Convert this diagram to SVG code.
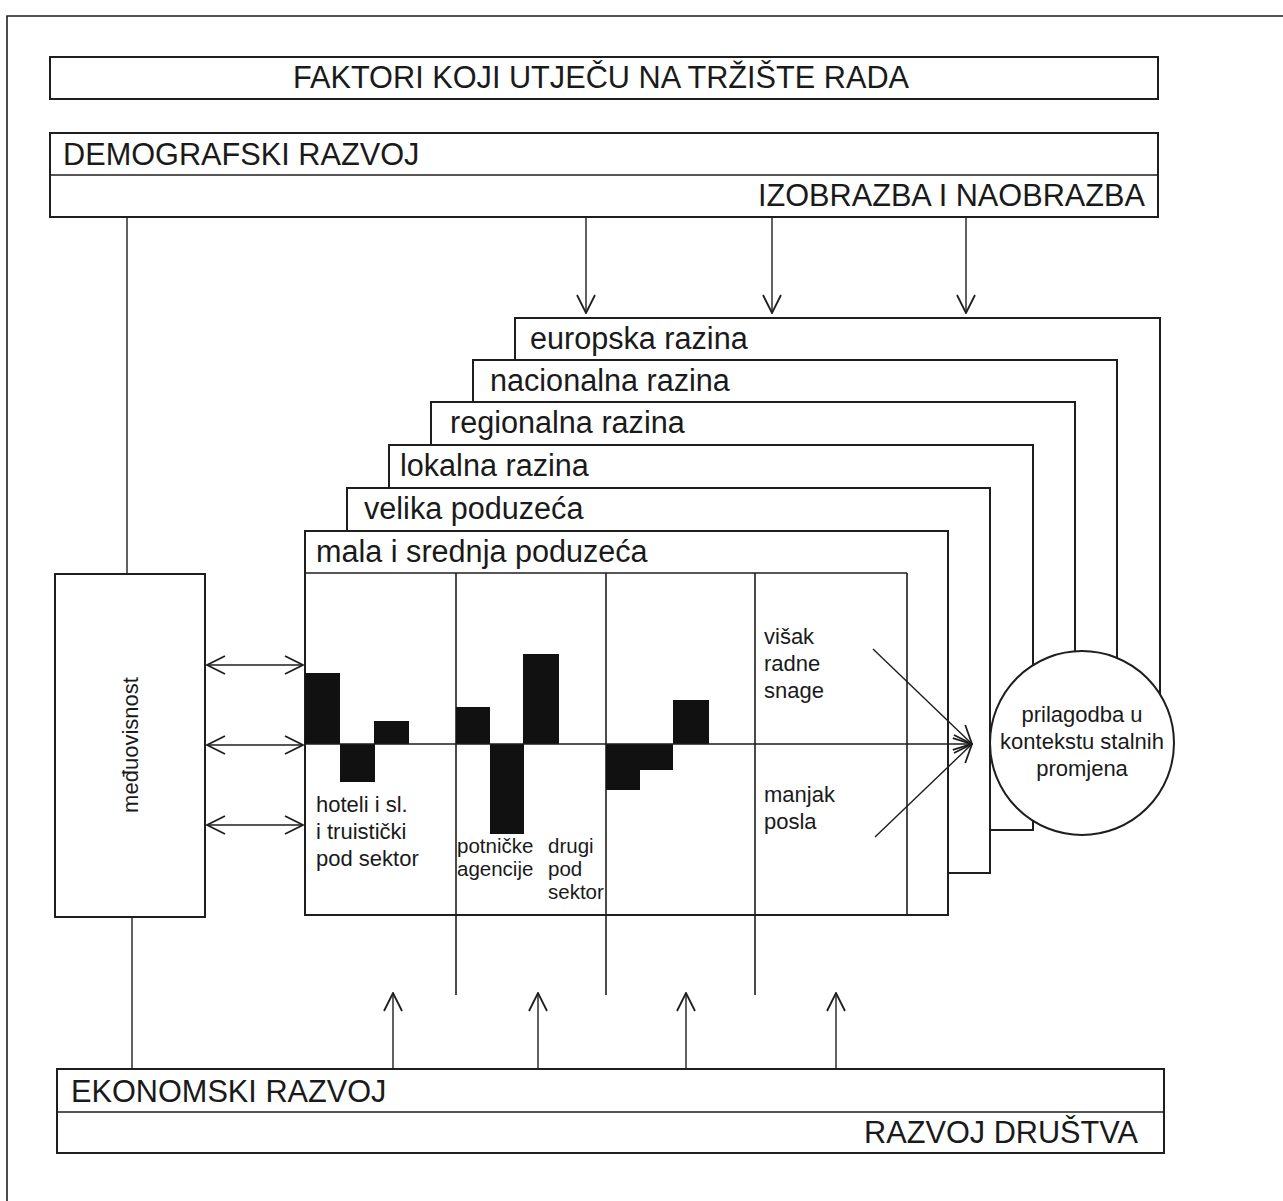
<svg xmlns="http://www.w3.org/2000/svg" width="1283" height="1201" viewBox="0 0 1283 1201">
  <defs>
    <marker id="ah" viewBox="0 0 20 20" refX="19" refY="10" markerWidth="20" markerHeight="20" markerUnits="userSpaceOnUse" orient="auto-start-reverse">
      <path d="M1,1 L19,10 L1,19" fill="none" stroke="#1e1e1e" stroke-width="1.8"/>
    </marker>
  </defs>
  <style>
    .box { fill: #fff; stroke: #1e1e1e; stroke-width: 2; }
    .ln { fill: none; stroke: #1e1e1e; stroke-width: 1.6; }
    .con { fill: none; stroke: #1e1e1e; stroke-width: 1.4; }
    .arr { fill: none; stroke: #1e1e1e; stroke-width: 1.4; marker-end: url(#ah); }
    .darr { fill: none; stroke: #1e1e1e; stroke-width: 1.4; marker-end: url(#ah); marker-start: url(#ah); }
    .bar { fill: #111; }
    .big { font-family: "Liberation Sans", Arial, sans-serif; font-size: 30.7px; fill: #1a1a1a; }
    .hdr { font-family: "Liberation Sans", Arial, sans-serif; font-size: 30.6px; fill: #1a1a1a; }
    .sm { font-family: "Liberation Sans", Arial, sans-serif; font-size: 22px; fill: #1a1a1a; }
    .xs { font-family: "Liberation Sans", Arial, sans-serif; font-size: 20.5px; fill: #1a1a1a; }
  </style>
  <rect x="0" y="0" width="1283" height="1201" fill="#fff"/>
  <path class="ln" d="M7,1201 V16 H1283"/>

  <g id="title">
    <rect class="box" x="50" y="57" width="1108" height="42"/>
    <text class="big" x="601" y="88" text-anchor="middle">FAKTORI KOJI UTJEČU NA TRŽIŠTE RADA</text>
  </g>

  <g id="demografski">
    <rect class="box" x="50" y="133" width="1108" height="84"/>
    <line class="ln" x1="50" y1="175" x2="1158" y2="175"/>
    <text class="big" x="63" y="165">DEMOGRAFSKI RAZVOJ</text>
    <text class="big" x="1145" y="206" text-anchor="end">IZOBRAZBA I NAOBRAZBA</text>
  </g>

  <g id="ekonomski">
    <rect class="box" x="57" y="1069" width="1107" height="84"/>
    <line class="ln" x1="57" y1="1112" x2="1164" y2="1112"/>
    <text class="big" x="71" y="1102">EKONOMSKI RAZVOJ</text>
    <text class="big" x="1138" y="1143" text-anchor="end">RAZVOJ DRUŠTVA</text>
  </g>

  <g id="meduovisnost">
    <rect class="box" x="55" y="574" width="150" height="343"/>
    <text class="sm" x="0" y="0" text-anchor="middle" transform="translate(138,745) rotate(-90)">međuovisnost</text>
  </g>

  <g id="europska">
    <rect class="box" x="515" y="318" width="645" height="427"/>
    <text class="hdr" x="530" y="349">europska razina</text>
  </g>
  <g id="nacionalna">
    <rect class="box" x="473" y="360" width="644" height="400"/>
    <text class="hdr" x="490" y="391">nacionalna razina</text>
  </g>
  <g id="regionalna">
    <rect class="box" x="431" y="402" width="644" height="388"/>
    <text class="hdr" x="450" y="433">regionalna razina</text>
  </g>
  <g id="lokalna">
    <rect class="box" x="389" y="445" width="644" height="385"/>
    <text class="hdr" x="400" y="476">lokalna razina</text>
  </g>
  <g id="velika">
    <rect class="box" x="347" y="488" width="643" height="385"/>
    <text class="hdr" x="364" y="519">velika poduzeća</text>
  </g>
  <g id="mala">
    <rect class="box" x="305" y="531" width="643" height="384"/>
    <text class="hdr" x="316" y="562">mala i srednja poduzeća</text>
    <line class="ln" x1="305" y1="573" x2="907" y2="573"/>
    <line class="ln" x1="907" y1="573" x2="907" y2="915"/>
  </g>

  <g id="grid">
    <line class="ln" x1="456" y1="573" x2="456" y2="995"/>
    <line class="ln" x1="606" y1="573" x2="606" y2="995"/>
    <line class="ln" x1="755" y1="573" x2="755" y2="995"/>
    <rect class="bar" x="305" y="673" width="35" height="71"/>
    <rect class="bar" x="340" y="744" width="35" height="38"/>
    <rect class="bar" x="374" y="721" width="35" height="23"/>
    <rect class="bar" x="456" y="707" width="34" height="37"/>
    <rect class="bar" x="490" y="744" width="34" height="90"/>
    <rect class="bar" x="523" y="654" width="36" height="90"/>
    <rect class="bar" x="606" y="744" width="34" height="46"/>
    <rect class="bar" x="640" y="744" width="33" height="26"/>
    <rect class="bar" x="673" y="700" width="36" height="44"/>
    <text class="sm"><tspan x="316" y="812">hoteli i sl.</tspan><tspan x="316" y="839">i truistički</tspan><tspan x="316" y="866">pod sektor</tspan></text>
    <text class="xs"><tspan x="457" y="853">potničke</tspan><tspan x="457" y="876">agencije</tspan></text>
    <text class="xs"><tspan x="548" y="853">drugi</tspan><tspan x="548" y="876">pod</tspan><tspan x="548" y="899">sektor</tspan></text>
    <text class="sm"><tspan x="764" y="644">višak</tspan><tspan x="764" y="671">radne</tspan><tspan x="764" y="698">snage</tspan></text>
    <text class="sm"><tspan x="764" y="802">manjak</tspan><tspan x="764" y="829">posla</tspan></text>
  </g>

  <g id="connectors">
    <line class="con" x1="127" y1="217" x2="127" y2="574"/>
    <line class="con" x1="132" y1="917" x2="132" y2="1069"/>
    <line class="arr" x1="586" y1="217" x2="586" y2="313"/>
    <line class="arr" x1="772" y1="217" x2="772" y2="313"/>
    <line class="arr" x1="966" y1="217" x2="966" y2="313"/>
    <line class="arr" x1="393" y1="1069" x2="393" y2="993"/>
    <line class="arr" x1="538" y1="1069" x2="538" y2="993"/>
    <line class="arr" x1="686" y1="1069" x2="686" y2="993"/>
    <line class="arr" x1="836" y1="1069" x2="836" y2="993"/>
    <line class="darr" x1="207" y1="665" x2="303" y2="665"/>
    <line class="darr" x1="207" y1="745" x2="303" y2="745"/>
    <line class="darr" x1="207" y1="825" x2="303" y2="825"/>
    <line class="arr" x1="305" y1="744" x2="972" y2="744"/>
    <line class="arr" x1="873" y1="649" x2="972" y2="744"/>
    <line class="arr" x1="875" y1="837" x2="972" y2="744"/>
  </g>

  <g id="prilagodba">
    <circle class="box" cx="1082" cy="743" r="92"/>
    <text class="sm" text-anchor="middle"><tspan x="1082" y="722">prilagodba u</tspan><tspan x="1082" y="749">kontekstu stalnih</tspan><tspan x="1082" y="776">promjena</tspan></text>
  </g>
</svg>
